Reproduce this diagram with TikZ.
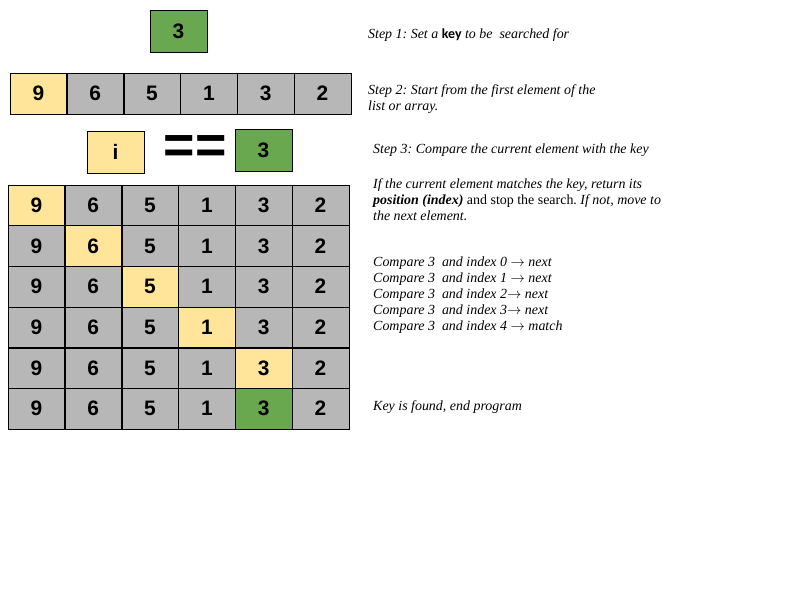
\documentclass[tikz,border=0pt]{standalone}
\usepackage{fontspec}
\setmainfont{Liberation Serif}
\newfontfamily\cellfont{Liberation Sans}
\newfontfamily\keyfont{Carlito}
\usetikzlibrary{positioning}
\definecolor{keygreen}{HTML}{6AA84F}
\definecolor{curyellow}{HTML}{FFE599}
\definecolor{cellgray}{HTML}{B7B7B7}
\tikzstyle{cell}=[rectangle,draw,fill=cellgray,minimum width=56.8,minimum height=40.7,inner sep=0pt,font=\cellfont\bfseries\fontsize{21}{24}\selectfont]
\tikzstyle{note}=[anchor=base west,inner sep=0pt,font=\frenchspacing\itshape\fontsize{14}{16}\selectfont]

\begin{document}
\begin{tikzpicture}[x=1bp,y=-1bp]
\useasboundingbox (0,0) rectangle (800,600);

%key to search
\node[cell,fill=keygreen,minimum width=57,minimum height=42] (key) at (178.5,31) {3};

%list, first element
\foreach \v [count=\c from 0] in {9,6,5,1,3,2} {
  \ifnum\c=0 \def\cf{curyellow}\else\def\cf{cellgray}\fi
  \node[cell,fill=\cf,minimum height=41] (l\c) at (10+56.83*\c+28.4,93.5) {\v};
}

%compare
\node[cell,fill=curyellow,minimum width=57,minimum height=42] (i) at (115.5,152) {i};
\node[font=\cellfont\bfseries\fontsize{54}{54}\selectfont,inner sep=0pt] (eq) at (195,150) {==};
\node[cell,fill=keygreen,minimum width=57,minimum height=42] (k) at (263.5,150) {3};

%search steps
\foreach \r in {0,...,5} {
  \foreach \v [count=\c from 0] in {9,6,5,1,3,2} {
    \def\cf{cellgray}
    \ifnum\r<5 \ifnum\c=\r \def\cf{curyellow}\fi\fi
    \ifnum\r=5 \ifnum\c=4 \def\cf{keygreen}\fi\fi
    \node[cell,fill=\cf] (g\r\c) at (8+56.83*\c+28.4,185+40.67*\r+20.3) {\v};
  }
}

%notes
\node[note] (s1) at (368,39) {Step 1: Set a {\upshape\keyfont\bfseries key} to be\ \ searched for};
\node[note] (s2a) at (368,95) {Step 2: Start from the first element of the};
\node[note] (s2b) at (368,111) {list or array.};
\node[note] (s3) at (373,154) {Step 3: Compare the current element with the key};
\node[note] (p1) at (373,189) {If the current element matches the key, return its};
\node[note] (p2) at (373,205) {\textbf{position (index)} \upshape and stop the search. \itshape If not, move to};
\node[note] (p3) at (373,221) {the next element.};
\foreach \t [count=\n from 0] in {0 $\to$ next,1 $\to$ next,2$\to$ next,3$\to$ next,4 $\to$ match} {
  \node[note] (c\n) at (373,266+16*\n) {Compare 3\ \ and index \t};
}
\node[note] (end) at (373,410) {Key is found, end program};
\end{tikzpicture}
\end{document}
